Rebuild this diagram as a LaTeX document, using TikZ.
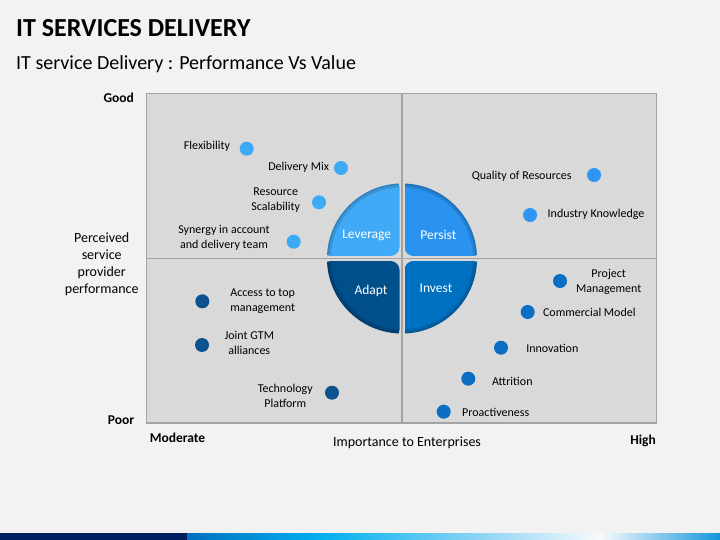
\documentclass[tikz,border=0pt]{standalone}
\usepackage{fontspec}
\setmainfont{Carlito}
\usepackage{tikz}
\usepackage{xcolor}

\definecolor{bgcol}{RGB}{242,242,242}
\definecolor{panelfill}{RGB}{217,217,217}
\definecolor{panelline}{RGB}{163,163,163}
\definecolor{levcol}{RGB}{64,170,246}
\definecolor{percol}{RGB}{42,147,240}
\definecolor{adacol}{RGB}{0,78,138}
\definecolor{invcol}{RGB}{0,112,192}
\definecolor{levdot}{RGB}{61,170,245}
\definecolor{perdot}{RGB}{46,149,240}
\definecolor{adadot}{RGB}{11,82,143}
\definecolor{invdot}{RGB}{10,110,194}
\definecolor{navycol}{RGB}{0,32,96}
\definecolor{barblue}{RGB}{0,112,192}
\definecolor{barcyan}{RGB}{0,176,240}
\definecolor{barlight}{RGB}{150,215,245}
\definecolor{barwhite}{RGB}{248,250,252}
\definecolor{barend}{RGB}{20,150,220}

\begin{document}
\begin{tikzpicture}[x=1pt,y=1pt,yscale=-1,xscale=1,
  quadbox/.style={draw=panelline,fill=panelfill,line width=1.2pt},
  dotlev/.style={circle,fill=levdot,inner sep=0pt,minimum size=14pt},
  dotper/.style={circle,fill=perdot,inner sep=0pt,minimum size=14pt},
  dotada/.style={circle,fill=adadot,inner sep=0pt,minimum size=14pt},
  dotinv/.style={circle,fill=invdot,inner sep=0pt,minimum size=14pt},
  lbl/.style={inner sep=0pt,align=center,font=\fontsize{12}{15.5}\selectfont},
  axislbl/.style={inner sep=0pt,align=center,font=\fontsize{14}{17}\selectfont},
  axisend/.style={inner sep=0pt,font=\fontsize{13.5}{16}\selectfont\bfseries},
  quadlbl/.style={inner sep=0pt,text=white,font=\fontsize{13.5}{16}\selectfont},
  innershade/.style={black,opacity=.12,line width=8}]

%Background
\fill[bgcol] (0,0) rectangle (720,540);
\useasboundingbox (0,0) rectangle (720,540);

% Text Node
\node[anchor=base west,inner sep=0pt,font=\fontsize{26}{30}\selectfont\bfseries] (title) at (16,36.7) {IT SERVICES DELIVERY};
% Text Node
\node[anchor=base west,inner sep=0pt,font=\fontsize{20}{24}\selectfont] (subtitle) at (16,69.3) {IT service Delivery : Performance Vs Value};

%Shape: Quadrants
\draw[quadbox] (146.5,93.5) rectangle (402,258.5);
\draw[quadbox] (402,93.5) rectangle (656.5,258.5);
\draw[quadbox] (146.5,258.5) rectangle (402,423);
\draw[quadbox] (402,258.5) rectangle (656.5,423);

%Shape: Quarter Leverage
\begin{scope}
\clip (402,258.5) circle (75);
\clip[rounded corners=9] (322,178.5) rectangle (399.5,256);
\fill[levcol] (322,178.5) rectangle (399.5,256);
\draw[innershade] (402,258.5) circle (75);
\draw[innershade,line width=3] (402,258.5) circle (75);
\end{scope}
%Shape: Quarter Persist
\begin{scope}
\clip (402,258.5) circle (75);
\clip[rounded corners=9] (404.5,178.5) rectangle (482,256);
\fill[percol] (404.5,178.5) rectangle (482,256);
\draw[innershade] (402,258.5) circle (75);
\draw[innershade,line width=3] (402,258.5) circle (75);
\end{scope}
%Shape: Quarter Adapt
\begin{scope}
\clip (402,258.5) circle (75);
\clip[rounded corners=9] (322,261) rectangle (399.5,338.5);
\fill[adacol] (322,261) rectangle (399.5,338.5);
\draw[innershade] (402,258.5) circle (75);
\draw[innershade,line width=3] (402,258.5) circle (75);
\end{scope}
%Shape: Quarter Invest
\begin{scope}
\clip (402,258.5) circle (75);
\clip[rounded corners=9] (404.5,261) rectangle (482,338.5);
\fill[invcol] (404.5,261) rectangle (482,338.5);
\draw[innershade] (402,258.5) circle (75);
\draw[innershade,line width=3] (402,258.5) circle (75);
\end{scope}

% Text Node
\node[quadlbl] (leverage) at (366.7,235) {Leverage};
\node[quadlbl] (persist) at (438.3,234.7) {Persist};
\node[quadlbl] (adapt) at (371,290.7) {Adapt};
\node[quadlbl] (invest) at (436,288.3) {Invest};

%Points: top left
\node[dotlev] (flexdot) at (246.7,148.7) {};
\node[lbl] (flex) at (207,146.5) {Flexibility};
\node[dotlev] (mixdot) at (341,168) {};
\node[lbl] (mix) at (298.7,167) {Delivery Mix};
\node[dotlev] (scaledot) at (319,202.3) {};
\node[lbl] (scale) at (275.7,200) {Resource\\Scalability};
\node[dotlev] (synergydot) at (293.7,241.7) {};
\node[lbl] (synergy) at (224,237.7) {Synergy in account\\and delivery team};

%Points: top right
\node[dotper] (qualitydot) at (594,175) {};
\node[lbl] (quality) at (521.7,176) {Quality of Resources};
\node[dotper] (industrydot) at (530,215) {};
\node[lbl] (industry) at (596,214) {Industry Knowledge};

%Points: bottom left
\node[dotada] (accessdot) at (202.3,301.3) {};
\node[lbl] (access) at (262.7,301) {Access to top\\management};
\node[dotada] (gtmdot) at (202,345) {};
\node[lbl] (gtm) at (249.3,343) {Joint GTM\\alliances};
\node[dotada] (techdot) at (332,392.7) {};
\node[lbl] (tech) at (285.3,396) {Technology\\Platform};

%Points: bottom right
\node[dotinv] (projectdot) at (560,281) {};
\node[lbl] (project) at (608.7,281.7) {Project\\Management};
\node[dotinv] (commercialdot) at (527.7,312) {};
\node[lbl] (commercial) at (589.3,312.7) {Commercial Model};
\node[dotinv] (innovationdot) at (501,347.7) {};
\node[lbl] (innovation) at (552.3,348.3) {Innovation};
\node[dotinv] (attritiondot) at (468.3,378.7) {};
\node[lbl] (attrition) at (512.3,381.3) {Attrition};
\node[dotinv] (proactivedot) at (443.7,411.7) {};
\node[lbl] (proactive) at (495.7,412.3) {Proactiveness};

% Text Node
\node[axisend] (good) at (118.7,97.5) {Good};
\node[axisend] (poor) at (121,420) {Poor};
\node[axisend] (moderate) at (177.5,437.7) {Moderate};
\node[axisend] (high) at (643,440.5) {High};
\node[axislbl] (importance) at (407,443) {Importance to Enterprises};
\node[axislbl] (perceived) at (101.7,264.5) {Perceived\\service\\provider\\performance};

%Bottom bar
\fill[navycol] (0,533.3) rectangle (187,540);
\shade[left color=barblue,right color=barcyan] (187,533.3) rectangle (320,540);
\shade[left color=barcyan,right color=barlight] (320,533.3) rectangle (490,540);
\shade[left color=barlight,right color=barwhite] (490,533.3) rectangle (600,540);
\shade[left color=barwhite,right color=barend] (600,533.3) rectangle (720,540);
\end{tikzpicture}
\end{document}
